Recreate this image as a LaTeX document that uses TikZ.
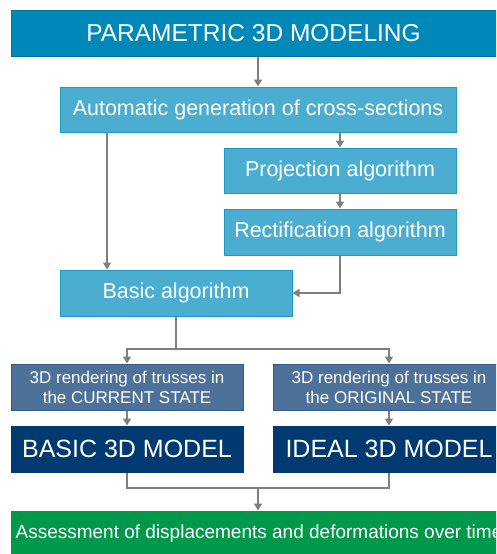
\documentclass[tikz,border=0pt]{standalone}
\usepackage{fontspec}
\setmainfont{Liberation Sans}
\usetikzlibrary{arrows.meta}
\definecolor{topblue}{HTML}{0088B9}
\definecolor{lightblue}{HTML}{4BADCF}
\definecolor{lightborder}{HTML}{1C9BC9}
\definecolor{steel}{HTML}{4E7199}
\definecolor{steelborder}{HTML}{2D5B8E}
\definecolor{navy}{HTML}{003A70}
\definecolor{grn}{HTML}{00984A}
\definecolor{linegray}{HTML}{7F7F7F}
\tikzset{
  box/.style={rectangle, inner sep=0pt, minimum height=46, text=white, line width=1pt},
  topbox/.style={box, fill=topblue, draw=topblue!85!black, font=\fontsize{24.5}{28}\selectfont},
  lbox/.style={box, fill=lightblue, draw=lightborder, font=\fontsize{21.5}{25}\selectfont},
  sbox/.style={box, fill=steel, draw=steelborder, align=center, font=\fontsize{17}{20}\selectfont},
  nbox/.style={box, fill=navy, draw=navy, font=\fontsize{25}{28}\selectfont},
  gbox/.style={box, fill=grn, draw=grn, font=\fontsize{19}{22}\selectfont},
  conn/.style={draw=linegray, line width=1.6pt},
  arr/.style={conn, -{Triangle[width=8pt,length=7pt]}}
}
\begin{document}
\begin{tikzpicture}[x=1pt,y=-1pt]
\path[use as bounding box] (0,0) rectangle (496,554);
\clip (0,0) rectangle (496,554);
\node[topbox, minimum width=485] (top) at (253.5,33) {PARAMETRIC 3D MODELING};
\node[lbox, minimum width=396, minimum height=45] (auto) at (258,109.5) {Automatic generation of cross-sections};
\node[lbox, minimum width=232, minimum height=45] (proj) at (340,170.5) {Projection algorithm};
\node[lbox, minimum width=232] (rect) at (340,232) {Rectification algorithm};
\node[lbox, minimum width=232] (basic) at (176,293) {Basic algorithm};
\node[sbox, minimum width=232] (rl) at (127,387) {3D rendering of trusses in\\the CURRENT STATE};
\node[sbox, minimum width=232] (rr) at (389,387) {3D rendering of trusses in\\the ORIGINAL STATE};
\node[nbox, minimum width=232] (bm) at (127,449) {BASIC 3D MODEL};
\node[nbox, minimum width=232] (im) at (389,449) {IDEAL 3D MODEL};
\node[gbox, minimum width=496] (green) at (259,534) {Assessment of displacements and deformations over time};
\coordinate (c1) at (107,0);
\coordinate (split) at (176,349);
\coordinate (join) at (258,488);
\draw[arr] (top.south -| auto.north) -- (auto.north);
\draw[arr] (auto.south -| proj.north) -- (proj.north);
\draw[arr] (proj.south) -- (rect.north);
\draw[arr] (auto.south -| c1) -- (basic.north -| c1);
\draw[arr] (rect.south) |- (basic.east);
\draw[conn] (basic.south) -- (split);
\draw[arr] (split) -| (rl.north);
\draw[arr] (split) -| (rr.north);
\draw[arr] (rl.south) -- (bm.north);
\draw[arr] (rr.south) -- (im.north);
\draw[conn] (bm.south) -- (bm.south |- join) -- (im.south |- join) -- (im.south);
\draw[arr] (join) -- (green.north -| join);
\end{tikzpicture}
\end{document}
